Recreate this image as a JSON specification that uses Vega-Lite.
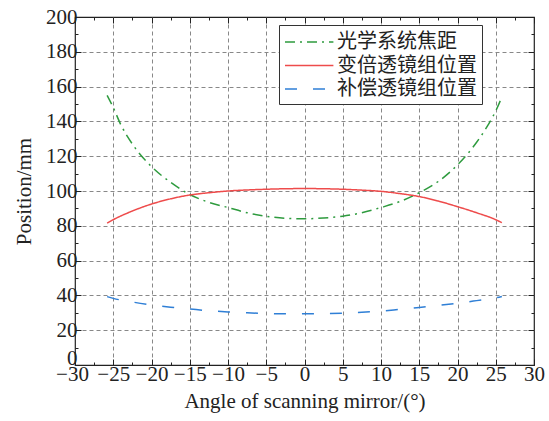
{
  "$schema": "https://vega.github.io/schema/vega-lite/v6.json",
  "width": 459,
  "height": 348,
  "autosize": "none",
  "padding": {"left": 75, "top": 17, "right": 15, "bottom": 56},
  "background": "white",
  "config": {
    "view": {"stroke": "#222", "strokeWidth": 1.2},
    "font": "Liberation Serif",
    "axis": {"labelFont": "Liberation Serif", "titleFont": "Liberation Serif", "labelColor": "#222", "titleColor": "#222", "titleFontWeight": "normal", "labelFontSize": 21, "titleFontSize": 21, "tickColor": "#222", "domain": false}
  },
  "data": {"values": [
    {"angle": -25.8, "position": 155, "series": "光学系统焦距"},
    {"angle": -25, "position": 148, "series": "光学系统焦距"},
    {"angle": -24, "position": 138, "series": "光学系统焦距"},
    {"angle": -22.5, "position": 127, "series": "光学系统焦距"},
    {"angle": -20, "position": 114, "series": "光学系统焦距"},
    {"angle": -17.5, "position": 105, "series": "光学系统焦距"},
    {"angle": -15, "position": 98, "series": "光学系统焦距"},
    {"angle": -12.5, "position": 93.5, "series": "光学系统焦距"},
    {"angle": -10, "position": 90.5, "series": "光学系统焦距"},
    {"angle": -7.5, "position": 87.5, "series": "光学系统焦距"},
    {"angle": -5, "position": 85.5, "series": "光学系统焦距"},
    {"angle": -2.5, "position": 84.3, "series": "光学系统焦距"},
    {"angle": 0, "position": 84, "series": "光学系统焦距"},
    {"angle": 2.5, "position": 84.5, "series": "光学系统焦距"},
    {"angle": 5, "position": 85.5, "series": "光学系统焦距"},
    {"angle": 7.5, "position": 87.5, "series": "光学系统焦距"},
    {"angle": 10, "position": 90.5, "series": "光学系统焦距"},
    {"angle": 12.5, "position": 94, "series": "光学系统焦距"},
    {"angle": 15, "position": 99, "series": "光学系统焦距"},
    {"angle": 17.5, "position": 105.5, "series": "光学系统焦距"},
    {"angle": 20, "position": 115, "series": "光学系统焦距"},
    {"angle": 22.5, "position": 128, "series": "光学系统焦距"},
    {"angle": 24, "position": 138, "series": "光学系统焦距"},
    {"angle": 25, "position": 146, "series": "光学系统焦距"},
    {"angle": 25.8, "position": 154, "series": "光学系统焦距"},
    {"angle": -25.8, "position": 81.5, "series": "变倍透镜组位置"},
    {"angle": -25, "position": 83.5, "series": "变倍透镜组位置"},
    {"angle": -22.5, "position": 88.5, "series": "变倍透镜组位置"},
    {"angle": -20, "position": 92.5, "series": "变倍透镜组位置"},
    {"angle": -17.5, "position": 95.5, "series": "变倍透镜组位置"},
    {"angle": -15, "position": 97.7, "series": "变倍透镜组位置"},
    {"angle": -12.5, "position": 99, "series": "变倍透镜组位置"},
    {"angle": -10, "position": 100, "series": "变倍透镜组位置"},
    {"angle": -7.5, "position": 100.6, "series": "变倍透镜组位置"},
    {"angle": -5, "position": 101, "series": "变倍透镜组位置"},
    {"angle": -2.5, "position": 101.3, "series": "变倍透镜组位置"},
    {"angle": 0, "position": 101.4, "series": "变倍透镜组位置"},
    {"angle": 2.5, "position": 101.3, "series": "变倍透镜组位置"},
    {"angle": 5, "position": 101, "series": "变倍透镜组位置"},
    {"angle": 7.5, "position": 100.5, "series": "变倍透镜组位置"},
    {"angle": 10, "position": 99.8, "series": "变倍透镜组位置"},
    {"angle": 12.5, "position": 98.5, "series": "变倍透镜组位置"},
    {"angle": 15, "position": 96.8, "series": "变倍透镜组位置"},
    {"angle": 17.5, "position": 94.2, "series": "变倍透镜组位置"},
    {"angle": 20, "position": 91, "series": "变倍透镜组位置"},
    {"angle": 22.5, "position": 87.5, "series": "变倍透镜组位置"},
    {"angle": 25, "position": 83.5, "series": "变倍透镜组位置"},
    {"angle": 25.8, "position": 81.8, "series": "变倍透镜组位置"},
    {"angle": -25.8, "position": 39.3, "series": "补偿透镜组位置"},
    {"angle": -25, "position": 38.3, "series": "补偿透镜组位置"},
    {"angle": -22.5, "position": 36.2, "series": "补偿透镜组位置"},
    {"angle": -20, "position": 34.5, "series": "补偿透镜组位置"},
    {"angle": -17.5, "position": 33.2, "series": "补偿透镜组位置"},
    {"angle": -15, "position": 32.2, "series": "补偿透镜组位置"},
    {"angle": -12.5, "position": 31.2, "series": "补偿透镜组位置"},
    {"angle": -10, "position": 30.5, "series": "补偿透镜组位置"},
    {"angle": -7.5, "position": 30, "series": "补偿透镜组位置"},
    {"angle": -5, "position": 29.6, "series": "补偿透镜组位置"},
    {"angle": -2.5, "position": 29.4, "series": "补偿透镜组位置"},
    {"angle": 0, "position": 29.4, "series": "补偿透镜组位置"},
    {"angle": 2.5, "position": 29.5, "series": "补偿透镜组位置"},
    {"angle": 5, "position": 29.8, "series": "补偿透镜组位置"},
    {"angle": 7.5, "position": 30.3, "series": "补偿透镜组位置"},
    {"angle": 10, "position": 31, "series": "补偿透镜组位置"},
    {"angle": 12.5, "position": 32, "series": "补偿透镜组位置"},
    {"angle": 15, "position": 33, "series": "补偿透镜组位置"},
    {"angle": 17.5, "position": 34.3, "series": "补偿透镜组位置"},
    {"angle": 20, "position": 35.5, "series": "补偿透镜组位置"},
    {"angle": 22.5, "position": 37, "series": "补偿透镜组位置"},
    {"angle": 25, "position": 38.6, "series": "补偿透镜组位置"},
    {"angle": 25.8, "position": 39.4, "series": "补偿透镜组位置"}
  ]},
  "layer": [
    {
      "mark": {"type": "line", "strokeWidth": 1.5, "interpolate": "monotone"},
      "encoding": {
        "x": {
          "field": "angle", "type": "quantitative",
          "scale": {"domain": [-30, 30], "nice": false, "zero": false},
          "title": "Angle of scanning mirror/(°)",
          "axis": {
            "orient": "bottom",
            "values": [-30, -27.5, -25, -22.5, -20, -17.5, -15, -12.5, -10, -7.5, -5, -2.5, 0, 2.5, 5, 7.5, 10, 12.5, 15, 17.5, 20, 22.5, 25, 27.5, 30],
            "format": "d",
            "labelExpr": "datum.value % 5 === 0 ? datum.label : ''",
            "tickSize": {"condition": {"test": "datum.value % 5 !== 0", "value": -3}, "value": -6},
            "labelOffset": {"condition": {"test": "datum.value === -30", "value": -3}, "value": 0},
            "labelPadding": 4,
            "labelFlush": false,
            "labelOverlap": false,
            "grid": true,
            "gridColor": "#888",
            "gridDash": [4, 3],
            "gridWidth": 1,
            "gridOpacity": {"condition": {"test": "datum.value % 5 !== 0 || datum.value === -30 || datum.value === 30", "value": 0}, "value": 1},
            "titlePadding": 3
          }
        },
        "y": {
          "field": "position", "type": "quantitative",
          "scale": {"domain": [0, 200], "nice": false},
          "title": "Position/mm",
          "axis": {
            "orient": "left",
            "values": [0, 10, 20, 30, 40, 50, 60, 70, 80, 90, 100, 110, 120, 130, 140, 150, 160, 170, 180, 190, 200],
            "format": "d",
            "labelExpr": "datum.value % 20 === 0 ? datum.label : ''",
            "tickSize": {"condition": {"test": "datum.value % 20 !== 0", "value": -3}, "value": -6},
            "labelOffset": {"condition": {"test": "datum.value === 0", "value": -7}, "value": 0},
            "labelPadding": 4,
            "labelFlush": false,
            "labelOverlap": false,
            "grid": true,
            "gridColor": "#888",
            "gridDash": [4, 3],
            "gridWidth": 1,
            "gridOpacity": {"condition": {"test": "datum.value % 20 !== 0 || datum.value === 0 || datum.value === 200", "value": 0}, "value": 1},
            "titlePadding": 11
          }
        },
        "color": {
          "field": "series", "type": "nominal",
          "scale": {"domain": ["光学系统焦距", "变倍透镜组位置", "补偿透镜组位置"], "range": ["#2e9b3e", "#ee4b4b", "#2f7fd6"]},
          "legend": {"orient": "none", "legendX": 204, "legendY": 8, "title": null, "strokeColor": "#333", "fillColor": "white", "padding": 5, "labelFont": "Noto Sans CJK SC", "labelFontSize": 20, "labelColor": "#222", "symbolType": "M-1,0H3.4", "symbolSize": 484, "symbolStrokeWidth": 1.5, "rowPadding": 1.5, "labelOffset": 29, "cornerRadius": 0}
        },
        "strokeDash": {
          "field": "series", "type": "nominal",
          "scale": {"domain": ["光学系统焦距", "变倍透镜组位置", "补偿透镜组位置"], "range": [[10, 5, 2, 5], [1, 0], [12, 16]]},
          "legend": {"orient": "none", "legendX": 204, "legendY": 8, "title": null, "strokeColor": "#333", "fillColor": "white", "padding": 5, "labelFont": "Noto Sans CJK SC", "labelFontSize": 20, "labelColor": "#222", "symbolType": "M-1,0H3.4", "symbolSize": 484, "symbolStrokeWidth": 1.5, "rowPadding": 1.5, "labelOffset": 29, "cornerRadius": 0}
        }
      }
    },
    {
      "mark": {"type": "line", "opacity": 0},
      "encoding": {
        "x": {
          "field": "angle", "type": "quantitative",
          "scale": {"domain": [-30, 30], "nice": false, "zero": false},
          "title": null,
          "axis": {
            "orient": "top",
            "values": [-30, -27.5, -25, -22.5, -20, -17.5, -15, -12.5, -10, -7.5, -5, -2.5, 0, 2.5, 5, 7.5, 10, 12.5, 15, 17.5, 20, 22.5, 25, 27.5, 30],
            "labels": false,
            "grid": false,
            "tickSize": {"condition": {"test": "datum.value % 5 !== 0", "value": -3}, "value": -6}
          }
        },
        "y": {
          "field": "position", "type": "quantitative",
          "scale": {"domain": [0, 200], "nice": false},
          "title": null,
          "axis": {
            "orient": "right",
            "values": [0, 10, 20, 30, 40, 50, 60, 70, 80, 90, 100, 110, 120, 130, 140, 150, 160, 170, 180, 190, 200],
            "labels": false,
            "grid": false,
            "tickSize": {"condition": {"test": "datum.value % 20 !== 0", "value": -3}, "value": -6}
          }
        },
        "detail": {"field": "series", "type": "nominal"}
      }
    }
  ],
  "resolve": {"axis": {"x": "independent", "y": "independent"}}
}
